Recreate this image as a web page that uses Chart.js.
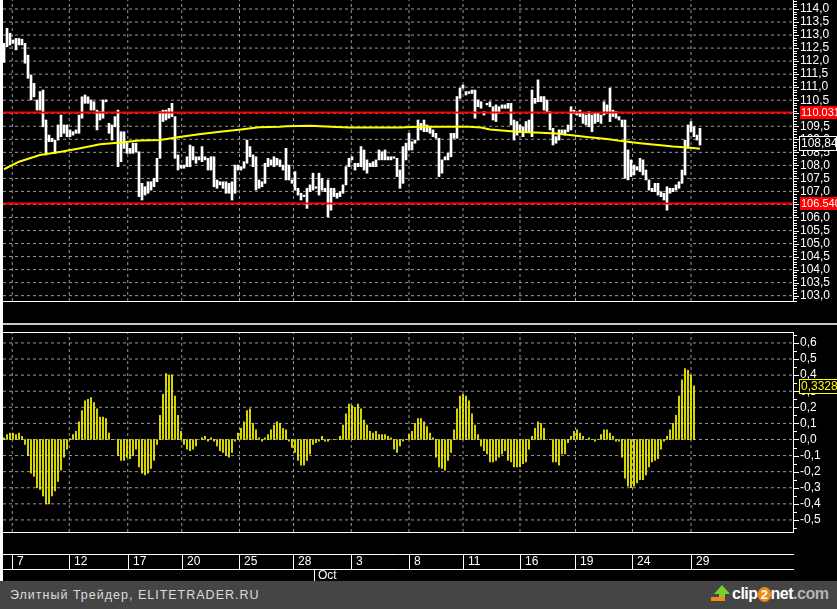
<!DOCTYPE html>
<html>
<head>
<meta charset="utf-8">
<script src="https://cdn.jsdelivr.net/npm/chart.js@4.4.1/dist/chart.umd.min.js"></script>
<style>
  html, body { margin: 0; padding: 0; background: #000; width: 837px; height: 609px; overflow: hidden; position: relative; font-family: "Liberation Sans", Arial, sans-serif; }
  #edge { position: absolute; left: 0; top: 0; width: 3px; height: 581px; background: #fff; }
  #priceCanvas { position: absolute; left: 3px; top: 0; }
  #sep { position: absolute; left: 3px; top: 323px; width: 834px; height: 2px; background: #c8c8c8; }
  #oscCanvas { position: absolute; left: 3px; top: 326px; }
  #footer { position: absolute; left: 0; top: 581px; width: 837px; height: 28px; background: #454545; }
  #footer .site { position: absolute; left: 10px; top: 7px; color: #dcdcdc; font-size: 12.5px; letter-spacing: 1px; }
  #footer .logo { position: absolute; left: 732px; top: 4px; font-size: 16px; font-weight: bold; color: #fff; letter-spacing: -0.5px; }
  #footer .logo .two { display: inline-block; width: 13px; height: 15px; border-radius: 7px; background: #f08a14; color: #fff; text-align: center; line-height: 15px; font-size: 13px; }
  #footer .logo .com { color: #b4b4b4; }
  #footer .arrow { position: absolute; left: 714px; top: 4px; width: 0; height: 0; border-left: 8px solid transparent; border-right: 8px solid transparent; border-bottom: 9px solid #7ccf2a; }
  #footer .arrowStem { position: absolute; left: 719px; top: 12px; width: 6px; height: 5px; background: #7ccf2a; }
  #footer .arrowBase { position: absolute; left: 711px; top: 16px; width: 14px; height: 4px; background: #f08a14; }
</style>
</head>
<body>
<div id="edge"></div>
<canvas id="priceCanvas" width="834" height="302"></canvas>
<div id="sep"></div>
<canvas id="oscCanvas" width="834" height="255"></canvas>
<div id="footer">
  <span class="site">Элитный Трейдер, ELITETRADER.RU</span>
  <span class="arrow"></span><span class="arrowStem"></span><span class="arrowBase"></span>
  <span class="logo">clip<span class="two">2</span>net<span class="com">.com</span></span>
</div>
<script>
// bar ranges, one per bar
const lows = [
  111.95, 112.55, 112.62, 112.68, 112.43, 112.62, 112.62, 111.92, 111.34, 110.51,
  110.63, 110.12, 110.12, 109.48, 108.40, 108.91, 108.91, 108.46, 108.97, 109.10,
  109.23, 109.10, 109.10, 109.16, 109.23, 109.23, 109.81, 110.38, 110.38, 110.12,
  110.12, 109.36, 109.74, 109.81, 110.44, 109.23, 108.97, 109.48, 107.95, 108.14,
  108.65, 108.46, 108.46, 108.46, 108.52, 106.80, 106.67, 106.86, 106.93, 107.05,
  107.18, 107.37, 108.27, 109.68, 109.74, 109.81, 109.87, 108.27, 107.82, 107.89,
  107.89, 107.95, 107.95, 108.21, 108.08, 108.21, 108.14, 108.21, 107.82, 107.82,
  107.18, 107.12, 107.25, 107.12, 106.93, 106.93, 106.67, 106.93, 107.82, 107.82,
  107.89, 108.08, 108.33, 107.95, 107.05, 107.12, 107.18, 107.31, 107.95, 108.01,
  107.95, 108.01, 107.95, 107.82, 107.44, 107.44, 107.31, 107.05, 106.86, 106.67,
  106.80, 106.35, 106.99, 107.05, 107.12, 106.86, 107.05, 106.99, 106.03, 106.28,
  106.80, 106.74, 106.80, 106.93, 107.25, 107.95, 108.21, 107.82, 107.95, 107.95,
  107.82, 107.70, 107.95, 107.95, 107.95, 108.21, 108.21, 108.21, 108.21, 108.21,
  108.27, 107.57, 107.12, 107.31, 108.21, 108.59, 108.59, 108.85, 108.97, 109.36,
  109.29, 109.29, 109.23, 109.10, 109.04, 107.57, 107.70, 108.21, 108.21, 108.33,
  109.04, 109.04, 110.57, 110.96, 110.70, 110.76, 110.76, 109.81, 110.25, 110.19,
  109.93, 110.32, 110.25, 109.74, 109.68, 110.00, 110.19, 110.19, 110.19, 109.55,
  108.97, 109.16, 109.29, 109.10, 109.29, 109.29, 109.10, 110.38, 110.44, 110.44,
  110.12, 110.06, 109.36, 108.78, 108.85, 108.97, 109.23, 109.16, 109.29, 109.36,
  110.00, 109.93, 109.87, 109.61, 109.55, 109.48, 109.29, 109.61, 109.68, 109.61,
  109.93, 110.00, 109.68, 109.87, 109.81, 109.74, 109.48, 107.50, 107.44, 107.57,
  107.63, 107.82, 107.76, 107.63, 107.44, 107.05, 106.99, 106.99, 106.86, 106.80,
  106.67, 106.28, 106.93, 106.99, 107.05, 107.12, 107.31, 107.63, 108.65, 109.29,
  109.10, 108.97, 108.78
];
const highs = [
  112.68, 113.26, 113.07, 112.81, 112.87, 112.87, 112.84, 112.68, 112.23, 111.47,
  111.15, 110.51, 110.83, 110.89, 109.74, 109.16, 109.04, 108.97, 109.55, 109.93,
  109.55, 109.55, 109.36, 109.29, 109.36, 109.93, 110.63, 110.70, 110.63, 110.51,
  110.44, 110.12, 110.06, 110.51, 110.51, 109.61, 109.55, 109.87, 110.12, 109.29,
  109.29, 108.85, 108.65, 108.85, 108.85, 108.52, 107.31, 107.18, 107.37, 107.37,
  107.50, 108.27, 110.06, 110.12, 110.12, 110.19, 110.38, 109.87, 108.40, 108.01,
  108.01, 108.33, 108.78, 108.72, 108.33, 108.33, 108.72, 108.33, 108.27, 108.33,
  108.33, 107.44, 107.37, 107.37, 107.37, 107.31, 107.37, 108.01, 108.01, 107.95,
  108.14, 108.97, 108.72, 108.40, 108.33, 107.44, 107.37, 108.08, 108.27, 108.21,
  108.33, 108.27, 108.21, 108.01, 108.65, 108.01, 107.44, 107.76, 107.12, 106.93,
  106.86, 107.12, 107.25, 107.70, 107.18, 107.70, 107.50, 107.12, 107.44, 107.12,
  107.12, 106.93, 106.99, 107.25, 107.95, 108.27, 108.33, 108.08, 108.08, 108.72,
  108.59, 108.21, 108.08, 108.14, 108.21, 108.59, 108.52, 108.59, 108.33, 108.33,
  108.33, 108.27, 107.82, 108.72, 108.85, 109.23, 108.91, 108.97, 109.74, 109.61,
  109.74, 109.55, 109.48, 109.36, 109.23, 109.04, 108.21, 108.33, 108.46, 109.23,
  109.23, 110.64, 110.96, 111.08, 110.83, 110.83, 110.89, 110.89, 110.51, 110.44,
  110.06, 110.38, 110.44, 110.25, 110.32, 110.25, 110.32, 110.32, 110.38, 110.38,
  109.74, 109.68, 109.55, 109.48, 109.68, 109.74, 110.89, 110.57, 111.28, 110.64,
  110.64, 110.51, 110.06, 109.42, 109.10, 109.36, 109.36, 109.36, 109.55, 110.25,
  110.12, 110.06, 110.12, 110.00, 109.93, 110.06, 109.93, 110.00, 110.00, 109.93,
  110.44, 110.32, 110.96, 110.12, 110.06, 109.87, 109.74, 109.74, 108.59, 108.21,
  108.01, 107.95, 108.27, 108.21, 107.82, 107.44, 107.12, 107.31, 107.31, 106.99,
  106.93, 107.18, 107.12, 107.12, 107.25, 107.37, 107.82, 108.97, 109.55, 109.68,
  109.48, 109.16, 109.42
];
const lastClose = 108.84;

// moving average, sampled along the bars
const maBars = [0, 5, 12, 19, 25, 32, 39, 45, 52, 59, 65, 72, 79, 85, 92, 94, 102, 109, 115, 132, 138, 155, 159, 162, 167, 172, 179, 184, 190, 195, 201, 206, 212, 218, 223, 229, 232];
const maValues = [107.85, 108.14, 108.40, 108.52, 108.65, 108.81, 108.88, 108.95, 108.97, 109.10, 109.19, 109.29, 109.38, 109.46, 109.48, 109.50, 109.52, 109.48, 109.45, 109.45, 109.48, 109.48, 109.45, 109.38, 109.33, 109.28, 109.25, 109.22, 109.15, 109.08, 109.01, 108.93, 108.85, 108.78, 108.72, 108.68, 108.64];

// support / resistance levels
const levels = [110.031, 106.540];

// oscillator histogram
const oscValues = [
  0.01, 0.03, 0.04, 0.04, 0.03, 0.04, 0.02, -0.03, -0.10, -0.21,
  -0.23, -0.30, -0.31, -0.35, -0.40, -0.40, -0.35, -0.32, -0.26, -0.19,
  -0.11, -0.06, 0.005, 0.03, 0.05, 0.11, 0.18, 0.24, 0.25, 0.26,
  0.23, 0.19, 0.14, 0.14, 0.13, 0.04, 0.0, 0.0, -0.10, -0.13,
  -0.13, -0.11, -0.12, -0.10, -0.06, -0.17, -0.21, -0.22, -0.21, -0.18,
  -0.13, -0.03, 0.15, 0.28, 0.41, 0.40, 0.40, 0.27, 0.15, 0.05,
  -0.03, -0.06, -0.07, -0.06, -0.04, 0.0, 0.01, 0.02, -0.01, 0.01,
  -0.01, -0.04, -0.07, -0.08, -0.10, -0.11, -0.08, -0.01, 0.04, 0.07,
  0.11, 0.18, 0.19, 0.10, 0.06, 0.01, -0.01, 0.01, 0.03, 0.06,
  0.09, 0.11, 0.10, 0.07, 0.06, -0.01, -0.05, -0.08, -0.13, -0.16,
  -0.16, -0.13, -0.09, -0.03, -0.02, -0.01, 0.02, -0.01, -0.01, 0.0,
  0.0, 0.0, 0.02, 0.09, 0.16, 0.22, 0.21, 0.20, 0.22, 0.19,
  0.12, 0.09, 0.05, 0.04, 0.05, 0.03, 0.03, 0.03, 0.02, 0.01,
  -0.06, -0.08, -0.04, -0.01, 0.0, 0.03, 0.05, 0.10, 0.13, 0.13,
  0.11, 0.08, 0.04, 0.01, -0.11, -0.17, -0.18, -0.19, -0.13, -0.08,
  0.06, 0.19, 0.27, 0.28, 0.27, 0.24, 0.16, 0.09, 0.03, -0.04,
  -0.07, -0.09, -0.14, -0.14, -0.13, -0.11, -0.09, -0.07, -0.13, -0.14,
  -0.17, -0.17, -0.17, -0.15, -0.14, -0.06, 0.02, 0.07, 0.11, 0.10,
  0.07, 0.0, 0.0, -0.14, -0.14, -0.16, -0.09, -0.09, -0.02, 0.02,
  0.05, 0.06, 0.04, 0.02, 0.0, 0.01, 0.0, -0.01, 0.0, 0.03,
  0.06, 0.06, 0.04, 0.02, -0.01, -0.01, -0.11, -0.24, -0.29, -0.30,
  -0.29, -0.27, -0.25, -0.25, -0.22, -0.17, -0.14, -0.13, -0.12, -0.06,
  -0.01, 0.02, 0.06, 0.10, 0.15, 0.27, 0.37, 0.44, 0.43, 0.40,
  0.3328
];

// axes
const priceTicks = [103.0, 103.5, 104.0, 104.5, 105.0, 105.5, 106.0, 106.5, 107.0, 107.5, 108.0, 108.5, 109.0, 109.5, 110.0, 110.5, 111.0, 111.5, 112.0, 112.5, 113.0, 113.5, 114.0];
const oscTicks = [-0.5, -0.4, -0.3, -0.2, -0.1, 0.0, 0.1, 0.2, 0.3, 0.4, 0.5, 0.6];
const dayTicks = [2.75, 21.75, 41.25, 59.25, 78.5, 96.5, 115.75, 135.0, 153.0, 172.0, 190.5, 209.5, 229.0];
const dayLabels = ["7", "12", "17", "20", "25", "28", "3", "8", "11", "16", "19", "24", "29"];
const monthTicks = [103.5];
const monthLabels = ["Oct"];

const X_MIN = -0.333;
const X_MAX = 263.0;
const PRICE_MIN = 102.795;
const PRICE_MAX = 114.345;
const OSC_MIN = -0.575;
const OSC_MAX = 0.668;
const FONT = '"Liberation Sans", Arial, sans-serif';

Chart.defaults.font.family = FONT;
Chart.defaults.animation = false;

const comma = (v, d) => v.toFixed(d).replace(".", ",");
const near = (list, v) => list.some((t) => Math.abs(t - v) < 1e-6);

function stepTicks(min, max, step) {
  const out = [];
  for (let k = Math.ceil(min / step - 1e-9); k * step <= max + 1e-9; k++) {
    out.push(Math.round(k * step * 1000) / 1000);
  }
  return out;
}

// dashed grid as plain line datasets, drawn first so the marks sit on top
function gridDatasets(majors, yMin, yMax) {
  const style = {
    type: "line",
    borderColor: "#9a9a9a",
    borderWidth: 1,
    borderDash: [3, 3],
    pointRadius: 0,
    order: 10
  };
  return [
    ...majors.map((v) => ({ ...style, data: [{ x: X_MIN, y: v }, { x: X_MAX, y: v }] })),
    ...dayTicks.map((t) => ({ ...style, data: [{ x: t, y: yMin }, { x: t, y: yMax }] }))
  ];
}

function xScale(height) {
  return {
    type: "linear",
    min: X_MIN,
    max: X_MAX,
    offset: false,
    afterBuildTicks: (s) => { s.ticks = dayTicks.map((v) => ({ value: v })); },
    afterFit: (s) => { s.height = height; s.paddingLeft = 0; s.paddingRight = 0; },
    ticks: { display: false },
    grid: { display: false, offset: false, drawTicks: false },
    border: { display: true, color: "#ffffff" }
  };
}

function yScale(min, max, majors) {
  return {
    position: "right",
    min: min,
    max: max,
    afterBuildTicks: (s) => { s.ticks = majors.map((v) => ({ value: v })); },
    afterFit: (s) => { s.width = 44; s.paddingTop = 0; s.paddingBottom = 0; },
    ticks: {
      autoSkip: false,
      color: "#ffffff",
      padding: 2,
      font: { size: 12 },
      callback: (v) => comma(v, 1)
    },
    grid: { display: false, drawTicks: true, tickLength: 5 },
    border: { display: true, color: "#ffffff" }
  };
}

// small tick marks on the right axis
function drawAxisTicks(chart, majors, minorStep) {
  const { ctx, chartArea: a, scales } = chart;
  const y = scales.y;
  ctx.save();
  ctx.fillStyle = "#ffffff";
  stepTicks(y.min, y.max, minorStep).forEach((v) => {
    const py = Math.round(y.getPixelForValue(v));
    ctx.fillRect(Math.round(a.right) + 1, py, near(majors, v) ? 5 : 3, 1);
  });
  ctx.restore();
}

const priceBoxes = {
  id: "priceBoxes",
  afterDraw(chart) {
    drawAxisTicks(chart, priceTicks, 0.1);
    const { ctx, chartArea, scales } = chart;
    const y = scales.y;
    ctx.save();
    ctx.font = "11px " + FONT;
    ctx.textBaseline = "middle";
    levels.forEach((v) => {
      const py = Math.round(y.getPixelForValue(v));
      ctx.fillStyle = "#ff0000";
      ctx.fillRect(chartArea.right + 7, py - 6, 60, 13);
      ctx.fillStyle = "#ffffff";
      ctx.fillText(v.toFixed(3), chartArea.right + 8, py + 1);
    });
    const py = Math.round(y.getPixelForValue(lastClose));
    ctx.fillStyle = "#000000";
    ctx.fillRect(chartArea.right + 6, py - 7, 60, 15);
    ctx.strokeStyle = "#ffffff";
    ctx.lineWidth = 1;
    ctx.strokeRect(chartArea.right + 6.5, py - 6.5, 37, 14);
    ctx.fillStyle = "#ffffff";
    ctx.font = "12px " + FONT;
    ctx.fillText(comma(lastClose, 2), chartArea.right + 8, py + 1);
    ctx.restore();
  }
};

new Chart(document.getElementById("priceCanvas"), {
  type: "bar",
  data: {
    datasets: [
      ...gridDatasets(priceTicks, PRICE_MIN, PRICE_MAX),
      ...levels.map((v) => ({
        type: "line",
        data: [{ x: X_MIN, y: v }, { x: X_MAX, y: v }],
        borderColor: "#ff0000",
        borderWidth: 2,
        pointRadius: 0,
        order: 1
      })),
      {
        type: "line",
        data: maBars.map((b, i) => ({ x: b, y: maValues[i] })),
        borderColor: "#ffff00",
        borderWidth: 2,
        pointRadius: 0,
        tension: 0,
        order: 2
      },
      {
        type: "bar",
        data: lows.map((lo, i) => ({ x: i, y: [lo, highs[i]] })),
        backgroundColor: "#ffffff",
        barThickness: 2,
        order: 3
      }
    ]
  },
  options: {
    responsive: false,
    devicePixelRatio: 1,
    layout: { padding: 0 },
    plugins: { legend: { display: false }, tooltip: { enabled: false } },
    scales: {
      x: xScale(1),
      y: yScale(PRICE_MIN, PRICE_MAX, priceTicks)
    }
  },
  plugins: [priceBoxes]
});

const oscDecor = {
  id: "oscDecor",
  afterDraw(chart) {
    drawAxisTicks(chart, oscTicks, 0.05);
    const { ctx, chartArea, scales } = chart;
    const x = scales.x;
    const y = scales.y;
    ctx.save();
    ctx.strokeStyle = "#ffffff";
    ctx.lineWidth = 1;
    // top frame of the panel
    ctx.beginPath();
    ctx.moveTo(0, chartArea.top + 0.5);
    ctx.lineTo(chartArea.right + 1, chartArea.top + 0.5);
    // date strip
    const top = Math.round(chartArea.bottom) + 22;
    const bot = top + 15;
    ctx.moveTo(0, top + 0.5);
    ctx.lineTo(chartArea.right + 1, top + 0.5);
    ctx.moveTo(0, bot + 0.5);
    ctx.lineTo(chartArea.right + 1, bot + 0.5);
    dayTicks.forEach((v) => {
      const px = Math.round(x.getPixelForValue(v)) + 0.5;
      ctx.moveTo(px, top);
      ctx.lineTo(px, bot);
    });
    monthTicks.forEach((v) => {
      const px = Math.round(x.getPixelForValue(v)) + 0.5;
      ctx.moveTo(px, bot);
      ctx.lineTo(px, chart.height);
    });
    ctx.stroke();
    ctx.fillStyle = "#ffffff";
    ctx.font = "12px " + FONT;
    ctx.textBaseline = "middle";
    dayLabels.forEach((t, i) => {
      ctx.fillText(t, Math.round(x.getPixelForValue(dayTicks[i])) + 5, top + 8);
    });
    monthLabels.forEach((t, i) => {
      ctx.fillText(t, Math.round(x.getPixelForValue(monthTicks[i])) + 4, bot + 7);
    });
    // last value box
    const last = oscValues[oscValues.length - 1];
    const py = Math.round(y.getPixelForValue(last));
    ctx.fillStyle = "#000000";
    ctx.fillRect(chartArea.right + 6, py - 7, 60, 15);
    ctx.strokeStyle = "#ffff00";
    ctx.strokeRect(chartArea.right + 6.5, py - 6.5, 60, 14);
    ctx.fillStyle = "#ffff00";
    ctx.fillText(comma(last, 4), chartArea.right + 8, py + 1);
    ctx.restore();
  }
};

new Chart(document.getElementById("oscCanvas"), {
  type: "bar",
  data: {
    datasets: [
      ...gridDatasets(oscTicks, OSC_MIN, OSC_MAX),
      {
        type: "bar",
        data: oscValues.map((v, i) => ({ x: i, y: v })),
        backgroundColor: "#ffff00",
        barThickness: 1,
        order: 1
      }
    ]
  },
  options: {
    responsive: false,
    devicePixelRatio: 1,
    layout: { padding: { top: 6 } },
    plugins: { legend: { display: false }, tooltip: { enabled: false } },
    scales: {
      x: xScale(49),
      y: yScale(OSC_MIN, OSC_MAX, oscTicks)
    }
  },
  plugins: [oscDecor]
});
</script>
</body>
</html>
